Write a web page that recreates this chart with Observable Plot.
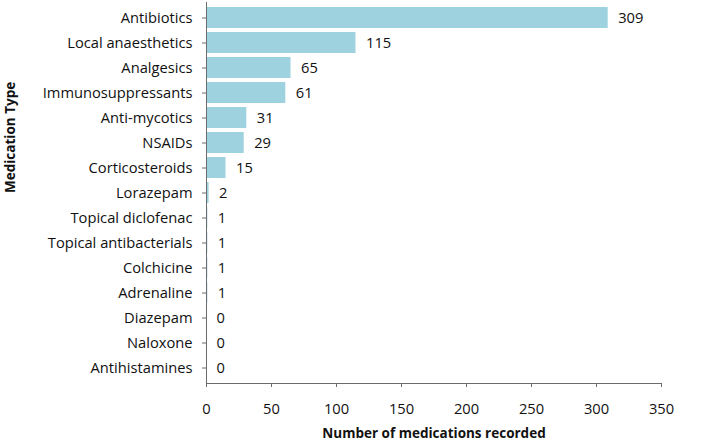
<!DOCTYPE html>
<html>
<head>
<meta charset="utf-8">
<script src="https://cdn.jsdelivr.net/npm/d3@7"></script>
<script src="https://cdn.jsdelivr.net/npm/@observablehq/plot@0.6"></script>
<style>
  html, body { margin: 0; padding: 0; background: #fff; }
  #chart { width: 709px; height: 442px; }
</style>
</head>
<body>
<div id="chart"></div>
<script>
// Medication types, in display order (top to bottom)
const medicationTypes = [
  "Antibiotics", "Local anaesthetics", "Analgesics", "Immunosuppressants",
  "Anti-mycotics", "NSAIDs", "Corticosteroids", "Lorazepam",
  "Topical diclofenac", "Topical antibacterials", "Colchicine", "Adrenaline",
  "Diazepam", "Naloxone", "Antihistamines"
];
// Number of medications recorded for each type
const counts = [309, 115, 65, 61, 31, 29, 15, 2, 1, 1, 1, 1, 0, 0, 0];
// x-axis tick values
const xTicks = [0, 50, 100, 150, 200, 250, 300, 350];

const rows = medicationTypes.map((type, i) => ({type, count: counts[i]}));

const barColor = "#9DD2DE";
const axisColor = "#6b6b6b";
const textColor = "#111";
const font = "'Open Sans', sans-serif";

const chart = Plot.plot({
  width: 709,
  height: 442,
  marginLeft: 206,
  marginRight: 48,
  marginTop: 2,
  marginBottom: 59,
  style: {fontFamily: font, fontSize: "14.7px", color: textColor, background: "#fff"},
  x: {domain: [0, 350]},
  y: {domain: medicationTypes, padding: 0.16},
  marks: [
    Plot.barX(rows, {y: "type", x: "count", fill: barColor}),
    Plot.text(rows, {
      y: "type", x: "count", text: d => String(d.count),
      textAnchor: "start", dx: 10, fontSize: 14.7, fill: textColor
    }),
    Plot.ruleX([0], {stroke: axisColor, strokeWidth: 1}),
    Plot.frame({anchor: "bottom", stroke: axisColor, strokeWidth: 1}),
    Plot.axisY({
      tickSize: 4, tickPadding: 10, stroke: axisColor, fontSize: 14.7,
      fill: textColor, label: null
    }),
    Plot.axisX({
      ticks: xTicks, tickSize: 4, tickPadding: 16, stroke: axisColor, fontSize: 14.7,
      fill: textColor, label: null
    }),
    Plot.text(["Number of medications recorded"], {
      frameAnchor: "bottom", dy: 54, text: d => d,
      fontWeight: "bold", fontSize: 13.5, fill: textColor
    }),
    Plot.text(["Medication Type"], {
      frameAnchor: "left", dx: -196, rotate: -90, text: d => d,
      fontWeight: "bold", fontSize: 13.5, fill: textColor
    })
  ]
});

document.getElementById("chart").appendChild(chart);
</script>
</body>
</html>
